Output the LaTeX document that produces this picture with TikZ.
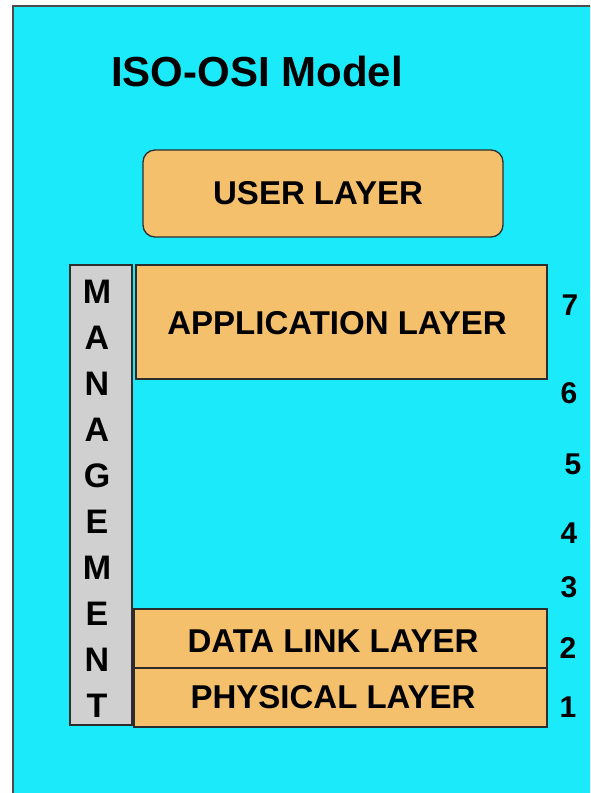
\documentclass[tikz,border=0pt]{standalone}
\usepackage{fontspec}
\setmainfont{Liberation Sans}
\definecolor{bgcyan}{RGB}{26,234,250}
\definecolor{layerorange}{RGB}{245,192,107}
\definecolor{mgmtgray}{RGB}{208,208,208}
\definecolor{edgegray}{RGB}{45,45,45}
\begin{document}
\begin{tikzpicture}[x=1pt,y=-1pt,
  layerbox/.style={draw=edgegray, line width=1.3pt, fill=layerorange, inner sep=0pt},
  layertext/.style={font=\fontsize{33}{33}\selectfont\bfseries, inner sep=0pt, anchor=base},
  num/.style={font=\fontsize{30}{30}\selectfont\bfseries, inner sep=0pt, anchor=base},
  mletter/.style={font=\fontsize{34}{34}\selectfont\bfseries, inner sep=0pt, anchor=base}]
\useasboundingbox (0,0) rectangle (590,793);
\fill[white] (0,0) rectangle (590,793);
\begin{scope}
  \clip (0,0) rectangle (590,793);
  \draw[fill=bgcyan, draw=edgegray!85, line width=2pt] (13,6) rectangle (620,820);
\end{scope}
\node[font=\fontsize{42}{42}\selectfont\bfseries, anchor=base, inner sep=0pt] (title) at (257,86) {ISO-OSI Model};
\node[layerbox, rounded corners=12pt, minimum width=360pt, minimum height=87pt] (user) at (323,193.5) {};
\node[layertext] (usertext) at (318,204) {USER LAYER};
\node[layerbox, minimum width=411pt, minimum height=114pt] (app) at (341.5,322) {};
\node[layertext] (apptext) at (337,334) {APPLICATION LAYER};
\node[layerbox, minimum width=413pt, minimum height=59pt] (dl) at (340.5,638.5) {};
\node[layertext] (dltext) at (333,652) {DATA LINK LAYER};
\node[layerbox, minimum width=413pt, minimum height=59pt] (ph) at (340.5,697.5) {};
\node[layertext] (phtext) at (333,708) {PHYSICAL LAYER};
\node[draw=edgegray, fill=mgmtgray, line width=1.3pt, inner sep=0pt, minimum width=62pt, minimum height=460pt] (mgmt) at (101,495) {};
\foreach \l [count=\i from 0] in {M,A,N,A,G,E,M,E,N,T}
  \node[mletter] (m\i) at (97,303+46*\i) {\l};
\node[num] (n7) at (570,315) {7};
\node[num] (n6) at (569,403) {6};
\node[num] (n5) at (573,474) {5};
\node[num] (n4) at (569,543) {4};
\node[num] (n3) at (569,597) {3};
\node[num] (n2) at (568,658) {2};
\node[num] (n1) at (568,717) {1};
\end{tikzpicture}
\end{document}
